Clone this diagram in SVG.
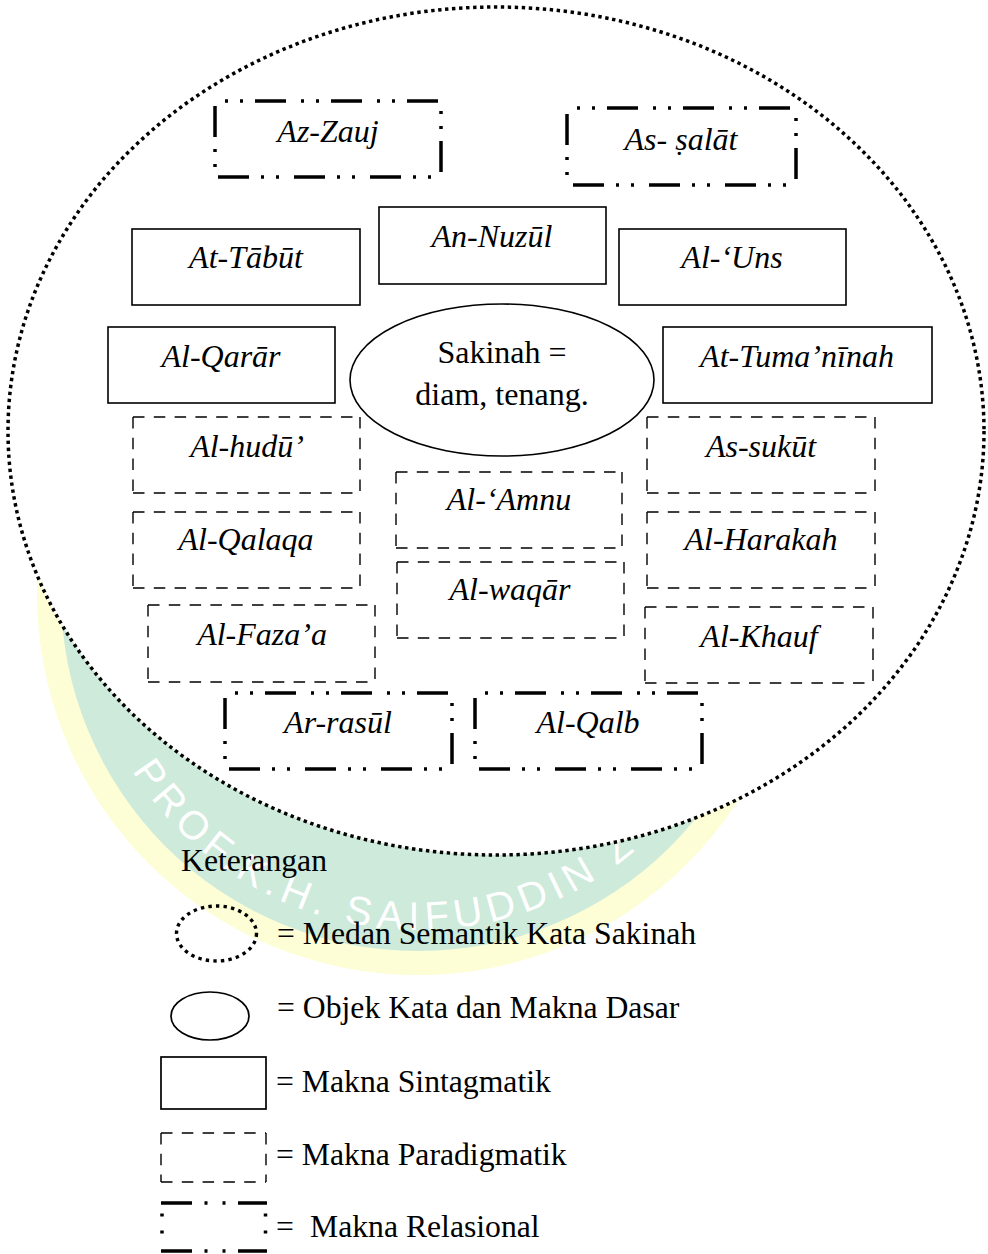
<svg xmlns="http://www.w3.org/2000/svg" xmlns:xlink="http://www.w3.org/1999/xlink" width="988" height="1254" viewBox="0 0 988 1254">
<style>
  .lbl { font-family: "Liberation Serif", "Times New Roman", serif; font-size: 32px; font-style: italic; fill: #000; text-anchor: middle; }
  .reg { font-family: "Liberation Serif", "Times New Roman", serif; font-size: 32px; fill: #000; text-anchor: middle; }
  .leg { font-family: "Liberation Serif", "Times New Roman", serif; font-size: 31.7px; fill: #000; }
  .solid { fill: #fff; stroke: #000; stroke-width: 1.6; }
  .dashed { fill: none; stroke: #000; stroke-width: 1.4; stroke-dasharray: 11.5 9.3; }
  .rel { fill: none; stroke: #000; stroke-width: 3.5; stroke-dasharray: 0 10 3 12 3 12 31 5; }
  .dotted { fill: #fff; stroke: #000; stroke-width: 3.5; stroke-dasharray: 3.4 3.6; }
  .wm { font-family: "Liberation Sans", Arial, sans-serif; font-size: 40px; fill: #ffffff; letter-spacing: 6px; }
</style>
<defs>
  <path id="wmArc" d="M 127 762 A 336 336 0 0 0 709 762" fill="none"/>
</defs>
<rect width="988" height="1254" fill="#fff"/>
<g id="watermark">
  <circle cx="418" cy="594" r="381" fill="#fdfdd6"/>
  <circle cx="418" cy="594" r="357" fill="#cdeadb"/>
  <text class="wm"><textPath xlink:href="#wmArc" href="#wmArc" startOffset="10">PROF.K.H. SAIFUDDIN Z</textPath></text>
</g>
<g id="semantic-field">
  <ellipse class="dotted" cx="496" cy="431" rx="488" ry="424"/>
</g>
<g id="connectors"></g>
<g id="core">
  <ellipse cx="502" cy="380" rx="152" ry="76" fill="#fff" stroke="#000" stroke-width="1.6"/>
  <text class="reg" x="502" y="363">Sakinah =</text>
  <text class="reg" x="502" y="405">diam, tenang.</text>
</g>
<g id="az-zauj">
  <path class="rel" d="M215 101 H441 M441 101 V177 M441 177 H215 M215 177 V101"/>
  <text class="lbl" x="328" y="142">Az-Zauj</text>
</g>
<g id="as-salat">
  <path class="rel" d="M567 108 H796 M796 108 V185 M796 185 H567 M567 185 V108"/>
  <text class="lbl" x="681" y="150">As- ṣalāt</text>
</g>
<g id="an-nuzul">
  <rect class="solid" x="379" y="207" width="227" height="77"/>
  <text class="lbl" x="492" y="247">An-Nuzūl</text>
</g>
<g id="at-tabut">
  <rect class="solid" x="132" y="229" width="228" height="76"/>
  <text class="lbl" x="246" y="268">At-Tābūt</text>
</g>
<g id="al-uns">
  <rect class="solid" x="619" y="229" width="227" height="76"/>
  <text class="lbl" x="732" y="268">Al-‘Uns</text>
</g>
<g id="al-qarar">
  <rect class="solid" x="108" y="327" width="227" height="76"/>
  <text class="lbl" x="221" y="367">Al-Qarār</text>
</g>
<g id="at-tumaninah">
  <rect class="solid" x="663" y="327" width="269" height="76"/>
  <text class="lbl" x="797" y="367">At-Tuma’nīnah</text>
</g>
<g id="al-hudu">
  <path class="dashed" d="M133 417 H360 M360 417 V493 M133 493 H360 M133 417 V493"/>
  <text class="lbl" x="247" y="457">Al-hudū’</text>
</g>
<g id="as-sukut">
  <path class="dashed" d="M647 417 H875 M875 417 V493 M647 493 H875 M647 417 V493"/>
  <text class="lbl" x="761" y="457">As-sukūt</text>
</g>
<g id="al-amnu">
  <path class="dashed" d="M396 472 H622 M622 472 V548 M396 548 H622 M396 472 V548"/>
  <text class="lbl" x="509" y="510">Al-‘Amnu</text>
</g>
<g id="al-qalaqa">
  <path class="dashed" d="M133 512 H360 M360 512 V588 M133 588 H360 M133 512 V588"/>
  <text class="lbl" x="246" y="550">Al-Qalaqa</text>
</g>
<g id="al-harakah">
  <path class="dashed" d="M647 512 H875 M875 512 V588 M647 588 H875 M647 512 V588"/>
  <text class="lbl" x="761" y="550">Al-Harakah</text>
</g>
<g id="al-waqar">
  <path class="dashed" d="M397 562 H624 M624 562 V638 M397 638 H624 M397 562 V638"/>
  <text class="lbl" x="510" y="600">Al-waqār</text>
</g>
<g id="al-fazaa">
  <path class="dashed" d="M148 605 H375 M375 605 V682 M148 682 H375 M148 605 V682"/>
  <text class="lbl" x="262" y="645">Al-Faza’a</text>
</g>
<g id="al-khauf">
  <path class="dashed" d="M645 607 H873 M873 607 V683 M645 683 H873 M645 607 V683"/>
  <text class="lbl" x="759" y="647">Al-Khauf</text>
</g>
<g id="ar-rasul">
  <path class="rel" d="M225 693 H452 M452 693 V769 M452 769 H225 M225 769 V693"/>
  <text class="lbl" x="338" y="733">Ar-rasūl</text>
</g>
<g id="al-qalb">
  <path class="rel" d="M475 693 H702 M702 693 V769 M702 769 H475 M475 769 V693"/>
  <text class="lbl" x="588" y="733">Al-Qalb</text>
</g>
<g id="legend">
  <text class="leg" x="181" y="871">Keterangan</text>
  <ellipse cx="216.5" cy="933.5" rx="40" ry="27.5" fill="none" stroke="#000" stroke-width="3.4" stroke-dasharray="3.4 4.2"/>
  <text class="leg" x="277" y="944">= Medan Semantik Kata Sakinah</text>
  <ellipse cx="210" cy="1016" rx="39" ry="24" fill="none" stroke="#000" stroke-width="1.7"/>
  <text class="leg" x="277" y="1018">= Objek Kata dan Makna Dasar</text>
  <rect x="161" y="1057" width="105" height="52" fill="none" stroke="#000" stroke-width="1.7"/>
  <text class="leg" x="276" y="1092">= Makna Sintagmatik</text>
  <path class="dashed" d="M161 1133 H266 M266 1133 V1182 M161 1182 H266 M161 1133 V1182"/>
  <text class="leg" x="276" y="1165">= Makna Paradigmatik</text>
  <path d="M161 1203 H267 M161 1251 H267" fill="none" stroke="#000" stroke-width="3.5" stroke-dasharray="31 12.5 3 15 3 12.5"/>
  <path d="M162 1203 V1251 M265.5 1203 V1251" fill="none" stroke="#000" stroke-width="3.5" stroke-dasharray="0 10.5 3 14 3 100"/>
  <text class="leg" x="276" y="1237">=<tspan x="310">Makna Relasional</tspan></text>
</g>
</svg>
